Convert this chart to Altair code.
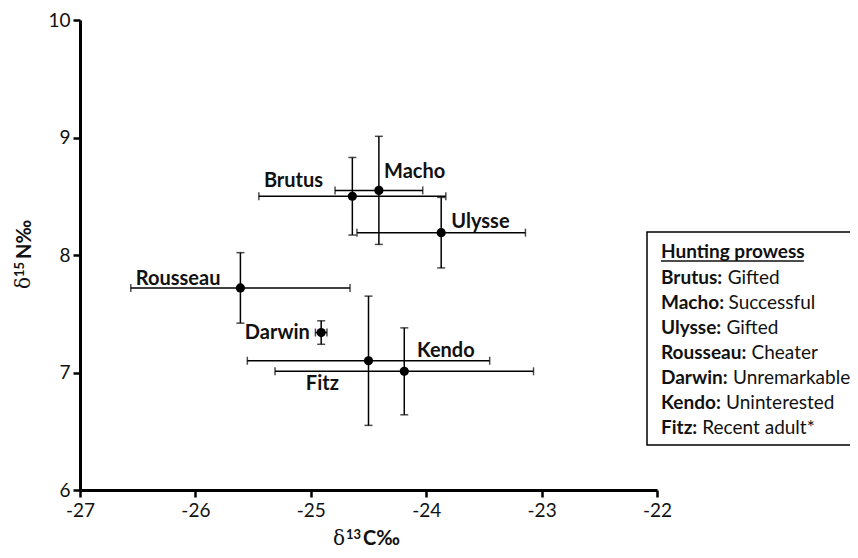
import altair as alt
import pandas as pd

# ---- data ----
names = ["Brutus", "Macho", "Ulysse", "Rousseau", "Darwin", "Kendo", "Fitz"]
d13c = [-24.64, -24.41, -23.87, -25.61, -24.91, -24.19, -24.50]
d13c_err = [0.81, 0.38, 0.73, 0.95, 0.05, 1.12, 1.05]
d15n = [8.50, 8.55, 8.19, 7.72, 7.34, 7.01, 7.10]
d15n_err = [0.33, 0.46, 0.30, 0.30, 0.10, 0.37, 0.55]
label_x = [-25.15, -24.10, -23.53, -26.15, -25.29, -23.83, -24.90]
label_y = [8.63, 8.71, 8.28, 7.80, 7.34, 7.18, 6.90]

legend_title = "Hunting prowess"
legend_names = ["Brutus:", "Macho:", "Ulysse:", "Rousseau:", "Darwin:", "Kendo:", "Fitz:"]
legend_desc = ["Gifted", "Successful", "Gifted", "Cheater", "Unremarkable",
               "Uninterested", "Recent adult*"]

x_ticks = [-27, -26, -25, -24, -23, -22]
y_ticks = [6, 7, 8, 9, 10]

FONT = "Lato"
FS_TICK = 19
FS_LAB = 20
FS_LEG = 19

df = pd.DataFrame({
    "name": names, "x": d13c, "ex": d13c_err, "y": d15n, "ey": d15n_err,
    "lx": label_x, "ly": label_y,
})
df["xlo"] = df["x"] - df["ex"]
df["xhi"] = df["x"] + df["ex"]
df["ylo"] = df["y"] - df["ey"]
df["yhi"] = df["y"] + df["ey"]

# approximate bold advance widths (em) for placing the legend descriptions
_bw = {'B': 0.64, 'r': 0.40, 'u': 0.57, 't': 0.37, 's': 0.43, ':': 0.27, 'M': 0.90,
       'a': 0.51, 'c': 0.47, 'h': 0.57, 'o': 0.57, 'U': 0.73, 'l': 0.26, 'y': 0.53,
       'e': 0.53, 'R': 0.62, 'D': 0.73, 'w': 0.79, 'i': 0.26, 'n': 0.57, 'K': 0.65,
       'd': 0.57, 'F': 0.55, 'z': 0.46, 'H': 0.74, 'g': 0.52, 'p': 0.57, ' ': 0.20}


def bold_width(s, fs):
    return sum(_bw.get(c, 0.55) for c in s) * fs


LEG_X = 581

leg = pd.DataFrame({"nm": legend_names, "desc": legend_desc,
                    "row": list(range(len(legend_names)))})
leg["nw"] = [bold_width(s, FS_LEG) for s in legend_names]

xscale = alt.Scale(domain=[-27, -22], nice=False, zero=False)
yscale = alt.Scale(domain=[6, 10], nice=False, zero=False)

axis_common = dict(domainWidth=3, domainColor="black", tickColor="black",
                   tickWidth=2.5, tickSize=7, labelFont=FONT, labelFontSize=FS_TICK,
                   labelColor="#111111", grid=False, labelFlush=False,
                   labelOverlap=False, labelExpr="toString(datum.value)")

X = alt.X("x:Q", scale=xscale, title="",
          axis=alt.Axis(values=x_ticks, labelPadding=4, **axis_common))
Y = alt.Y("y:Q", scale=yscale, title="",
          axis=alt.Axis(values=y_ticks, labelPadding=3, **axis_common))

base = alt.Chart(df)

hbar = base.mark_rule(color="black", strokeWidth=1.5).encode(
    x=X, x2="xhi:Q", y=Y).transform_calculate(x="datum.xlo")
hcap_lo = base.mark_tick(orient="vertical", size=8, thickness=1.5, color="black").encode(
    x=alt.X("xlo:Q"), y=alt.Y("y:Q"))
hcap_hi = base.mark_tick(orient="vertical", size=8, thickness=1.5, color="black").encode(
    x=alt.X("xhi:Q"), y=alt.Y("y:Q"))
vbar = base.mark_rule(color="black", strokeWidth=1.5).encode(
    x=alt.X("x:Q"), y=alt.Y("ylo:Q"), y2="yhi:Q")
vcap_lo = base.mark_tick(orient="horizontal", size=8, thickness=1.5, color="black").encode(
    x=alt.X("x:Q"), y=alt.Y("ylo:Q"))
vcap_hi = base.mark_tick(orient="horizontal", size=8, thickness=1.5, color="black").encode(
    x=alt.X("x:Q"), y=alt.Y("yhi:Q"))
points = base.mark_circle(size=85, color="black", opacity=1).encode(
    x=alt.X("x:Q"), y=alt.Y("y:Q"))
labels = base.mark_text(font=FONT, fontSize=FS_LAB, fontWeight="bold", color="#111111",
                        align="center", baseline="middle").encode(
    x=alt.X("lx:Q"), y=alt.Y("ly:Q"), text="name:N")

one = alt.Chart(pd.DataFrame({"k": [0]}))

# legend box (right side runs off the canvas, as in the reference)
box = one.mark_rect(fillOpacity=0, stroke="black", strokeWidth=1.5).encode(
    x=alt.value(567), x2=alt.value(900), y=alt.value(212), y2=alt.value(425))
leg_title = one.mark_text(font=FONT, fontSize=FS_LEG, fontWeight="bold", color="#111111",
                          align="left", baseline="middle").encode(
    x=alt.value(LEG_X), y=alt.value(232), text=alt.value(legend_title))
leg_ul = one.mark_rule(color="#111111", strokeWidth=1.3).encode(
    x=alt.value(LEG_X), x2=alt.value(LEG_X + bold_width(legend_title, FS_LEG)),
    y=alt.value(241))
lbase = alt.Chart(leg).transform_calculate(
    py="258 + 25 * datum.row", px=f"{LEG_X} + datum.nw + 5")
leg_nm = lbase.mark_text(font=FONT, fontSize=FS_LEG, fontWeight="bold", color="#111111",
                         align="left", baseline="middle").encode(
    x=alt.value(LEG_X), y=alt.Y("py:Q", scale=None), text="nm:N")
leg_ds = lbase.mark_text(font=FONT, fontSize=FS_LEG, color="#111111",
                         align="left", baseline="middle").encode(
    x=alt.X("px:Q", scale=None), y=alt.Y("py:Q", scale=None), text="desc:N")


# axis titles with superscripts
def piece(txt, x, y, size, weight="bold", font=FONT, angle=0):
    kw = dict(font=font, fontSize=size, fontWeight=weight, color="#111111",
              align="left", baseline="alphabetic")
    if angle:
        kw["angle"] = angle
    return one.mark_text(**kw).encode(x=alt.value(x), y=alt.value(y), text=alt.value(txt))


xt = [piece("δ", 253, 525, 20, "normal", "DejaVu Serif"),
      piece("13", 266, 519, 13),
      piece("C‰", 283, 525, 20)]
yt = [piece("δ", -50, 269, 20, "normal", "DejaVu Serif", 270),
      piece("15", -56, 257, 13, angle=270),
      piece("N‰", -49, 239, 20, angle=270)]

chart = alt.layer(
    hbar, hcap_lo, hcap_hi, vbar, vcap_lo, vcap_hi, points, labels,
    box, leg_title, leg_ul, leg_nm, leg_ds, *xt, *yt
).properties(
    width=577, height=470,
    autosize=alt.AutoSizeParams(type="none"),
    padding={"left": 72, "top": 12, "right": 193, "bottom": 60},
).configure_view(strokeWidth=0)

chart.save("out.html", embed_options={"renderer": "svg", "actions": False})
